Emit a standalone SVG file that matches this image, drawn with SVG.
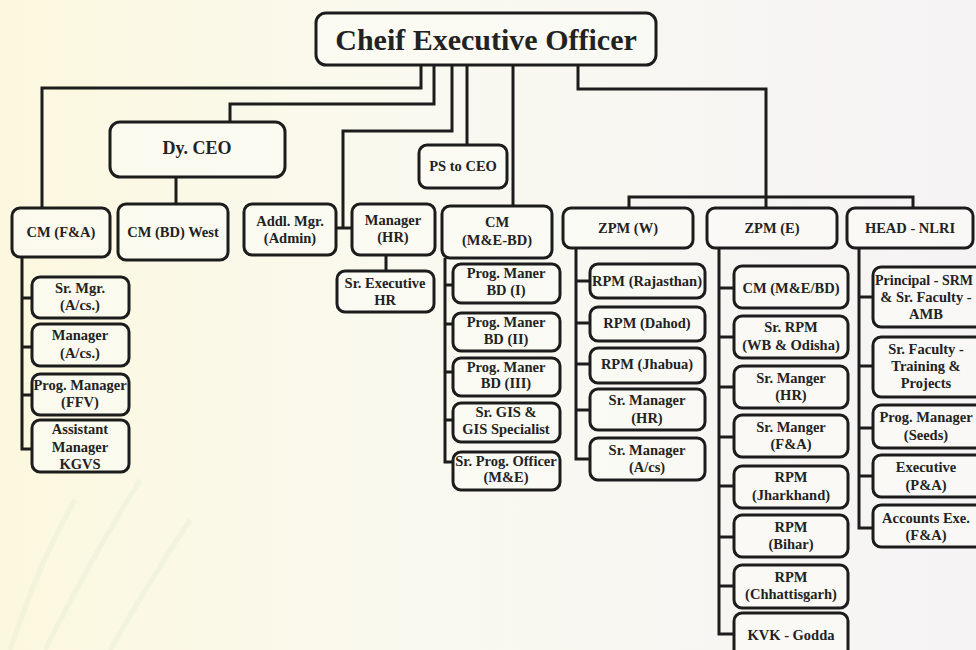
<svg xmlns="http://www.w3.org/2000/svg" width="976" height="650" viewBox="0 0 976 650">
<defs>
<linearGradient id="bg" x1="0" y1="0" x2="1" y2="0">
<stop offset="0" stop-color="#fcf8df"/>
<stop offset="0.45" stop-color="#f9f9f0"/>
<stop offset="1" stop-color="#f6f3f5"/>
</linearGradient>
<style>
.b{fill:#fbfbf6;fill-opacity:0.6;stroke:#1c1c1c;stroke-width:3}
.c{fill:none;stroke:#1c1c1c;stroke-width:3}
text{font-family:"Liberation Serif","Times New Roman",serif;font-weight:bold;fill:#222;text-anchor:middle;font-size:14.5px}
.big{font-size:30px}
.mid{font-size:18px}
.sm{font-size:14px}
</style>
</defs>
<rect width="976" height="650" fill="url(#bg)"/>
<g opacity="0.3" fill="none" stroke="#dfe8cf" stroke-width="5">
<path d="M10,650 Q40,560 75,500"/>
<path d="M45,650 Q90,560 140,480"/>
<path d="M110,650 Q150,580 190,520"/>
</g>

<g id="connectors">
<path class="c" d="M421,65 V88 H42 V208"/>
<path class="c" d="M434,65 V104 H230 V122"/>
<path class="c" d="M452,65 V131 H343 V228"/>
<path class="c" d="M467,65 V145"/>
<path class="c" d="M513,65 V206"/>
<path class="c" d="M578,65 V89 H766 V208"/>
<path class="c" d="M629,208 V197 H913 V208"/>
<path class="c" d="M336,228 H352"/>
<path class="c" d="M176,177 V204"/>
<path class="c" d="M386,255 V271"/>
<path class="c" d="M22,257 V449 H32 M22,298 H32 M22,347 H32 M22,395 H32"/>
<path class="c" d="M445,258 V462 H453 M445,285 H453 M445,324 H453 M445,372 H453 M445,420 H453"/>
<path class="c" d="M576,248 V459 H590 M576,281 H590 M576,323 H590 M576,364 H590 M576,410 H590"/>
<path class="c" d="M719,248 V634 H734 M719,288 H734 M719,337 H734 M719,387 H734 M719,437 H734 M719,486 H734 M719,537 H734 M719,586 H734"/>
<path class="c" d="M859,248 V528 H873 M859,297 H873 M859,366 H873 M859,428 H873 M859,476 H873"/>
</g>

<g id="ceo"><rect class="b" x="316" y="13" width="340" height="52" rx="10"/><text class="big" x="486" y="50">Cheif Executive Officer</text></g>
<g id="dyceo"><rect class="b" x="110" y="122" width="175" height="55" rx="10"/><text class="mid" x="197" y="154">Dy. CEO</text></g>
<g id="ps"><rect class="b" x="419" y="145" width="88" height="43" rx="8"/><text x="463" y="171">PS to CEO</text></g>
<g id="cmfa"><rect class="b" x="12" y="208" width="98" height="49" rx="8"/><text x="61" y="237">CM (F&amp;A)</text></g>
<g id="cmbd"><rect class="b" x="118" y="204" width="110" height="56" rx="8"/><text x="173" y="237">CM (BD) West</text></g>
<g id="addl"><rect class="b" x="244" y="204" width="92" height="51" rx="8"/><text x="290" y="226">Addl. Mgr.</text><text x="290" y="243">(Admin)</text></g>
<g id="mhr"><rect class="b" x="352" y="204" width="83" height="51" rx="8"/><text x="393" y="225">Manager</text><text x="393" y="242">(HR)</text></g>
<g id="cmme"><rect class="b" x="442" y="206" width="110" height="52" rx="8"/><text x="497" y="227">CM</text><text x="497" y="245">(M&amp;E-BD)</text></g>
<g id="srexec"><rect class="b" x="337" y="271" width="97" height="41" rx="8"/><text x="385" y="288">Sr. Executive</text><text x="385" y="305">HR</text></g>
<g id="zpmw"><rect class="b" x="563" y="208" width="130" height="40" rx="8"/><text x="628" y="233">ZPM (W)</text></g>
<g id="zpme"><rect class="b" x="707" y="208" width="130" height="40" rx="8"/><text x="772" y="233">ZPM (E)</text></g>
<g id="head"><rect class="b" x="847" y="208" width="126" height="40" rx="8"/><text x="910" y="233">HEAD - NLRI</text></g>

<g id="srmgr"><rect class="b" x="32" y="277" width="97" height="41" rx="8"/><text x="80" y="293">Sr. Mgr.</text><text x="80" y="310">(A/cs.)</text></g>
<g id="mgracs"><rect class="b" x="32" y="324" width="97" height="42" rx="8"/><text x="80" y="340">Manager</text><text x="80" y="358">(A/cs.)</text></g>
<g id="progffv"><rect class="b" x="32" y="374" width="97" height="41" rx="8"/><text x="80" y="390">Prog. Manager</text><text x="80" y="407">(FFV)</text></g>
<g id="asst"><rect class="b" x="32" y="420" width="97" height="52" rx="8"/><text x="80" y="434">Assistant</text><text x="80" y="452">Manager</text><text x="80" y="469">KGVS</text></g>

<g id="bd1"><rect class="b" x="453" y="264" width="107" height="39" rx="8"/><text x="506" y="278">Prog. Maner</text><text x="506" y="295">BD (I)</text></g>
<g id="bd2"><rect class="b" x="453" y="313" width="107" height="38" rx="8"/><text x="506" y="327">Prog. Maner</text><text x="506" y="344">BD (II)</text></g>
<g id="bd3"><rect class="b" x="453" y="358" width="107" height="38" rx="8"/><text x="506" y="372">Prog. Maner</text><text x="506" y="388">BD (III)</text></g>
<g id="gis"><rect class="b" x="453" y="403" width="107" height="39" rx="8"/><text x="506" y="417">Sr. GIS &amp;</text><text x="506" y="434">GIS Specialist</text></g>
<g id="spo"><rect class="b" x="453" y="452" width="107" height="38" rx="8"/><text x="506" y="466">Sr. Prog. Officer</text><text x="506" y="482">(M&amp;E)</text></g>

<g id="raj"><rect class="b" x="590" y="264" width="115" height="34" rx="8"/><text x="647" y="286">RPM (Rajasthan)</text></g>
<g id="dahod"><rect class="b" x="590" y="307" width="115" height="34" rx="8"/><text x="647" y="328">RPM (Dahod)</text></g>
<g id="jhabua"><rect class="b" x="590" y="348" width="115" height="35" rx="8"/><text x="647" y="369">RPM (Jhabua)</text></g>
<g id="smhr"><rect class="b" x="590" y="389" width="115" height="41" rx="8"/><text x="647" y="405">Sr. Manager</text><text x="647" y="423">(HR)</text></g>
<g id="smacs"><rect class="b" x="590" y="438" width="115" height="42" rx="8"/><text x="647" y="455">Sr. Manager</text><text x="647" y="472">(A/cs)</text></g>

<g id="cmmebd"><rect class="b" x="734" y="266" width="114" height="42" rx="8"/><text x="791" y="293">CM (M&amp;E/BD)</text></g>
<g id="srrpm"><rect class="b" x="734" y="316" width="114" height="42" rx="8"/><text x="791" y="332">Sr. RPM</text><text x="791" y="350">(WB &amp; Odisha)</text></g>
<g id="smghr"><rect class="b" x="734" y="366" width="114" height="42" rx="8"/><text x="791" y="383">Sr. Manger</text><text x="791" y="400">(HR)</text></g>
<g id="smgfa"><rect class="b" x="734" y="415" width="114" height="42" rx="8"/><text x="791" y="432">Sr. Manger</text><text x="791" y="449">(F&amp;A)</text></g>
<g id="jhar"><rect class="b" x="734" y="466" width="114" height="42" rx="8"/><text x="791" y="482">RPM</text><text x="791" y="500">(Jharkhand)</text></g>
<g id="bihar"><rect class="b" x="734" y="515" width="114" height="42" rx="8"/><text x="791" y="532">RPM</text><text x="791" y="549">(Bihar)</text></g>
<g id="chh"><rect class="b" x="734" y="565" width="114" height="43" rx="8"/><text x="791" y="582">RPM</text><text x="791" y="599">(Chhattisgarh)</text></g>
<g id="kvk"><rect class="b" x="734" y="613" width="114" height="50" rx="8"/><text x="791" y="640">KVK - Godda</text></g>

<g id="principal"><rect class="b" x="873" y="267" width="112" height="60" rx="8"/><text class="sm" x="924" y="285">Principal - SRM</text><text x="926" y="302">&amp; Sr. Faculty -</text><text x="926" y="319">AMB</text></g>
<g id="srfac"><rect class="b" x="873" y="337" width="112" height="60" rx="8"/><text x="926" y="354">Sr. Faculty -</text><text x="926" y="371">Training &amp;</text><text x="926" y="388">Projects</text></g>
<g id="seeds"><rect class="b" x="873" y="405" width="112" height="43" rx="8"/><text x="926" y="422">Prog. Manager</text><text x="926" y="440">(Seeds)</text></g>
<g id="exec"><rect class="b" x="873" y="455" width="112" height="42" rx="8"/><text x="926" y="472">Executive</text><text x="926" y="490">(P&amp;A)</text></g>
<g id="accexe"><rect class="b" x="873" y="505" width="112" height="42" rx="8"/><text x="926" y="523">Accounts Exe.</text><text x="926" y="540">(F&amp;A)</text></g>
</svg>
